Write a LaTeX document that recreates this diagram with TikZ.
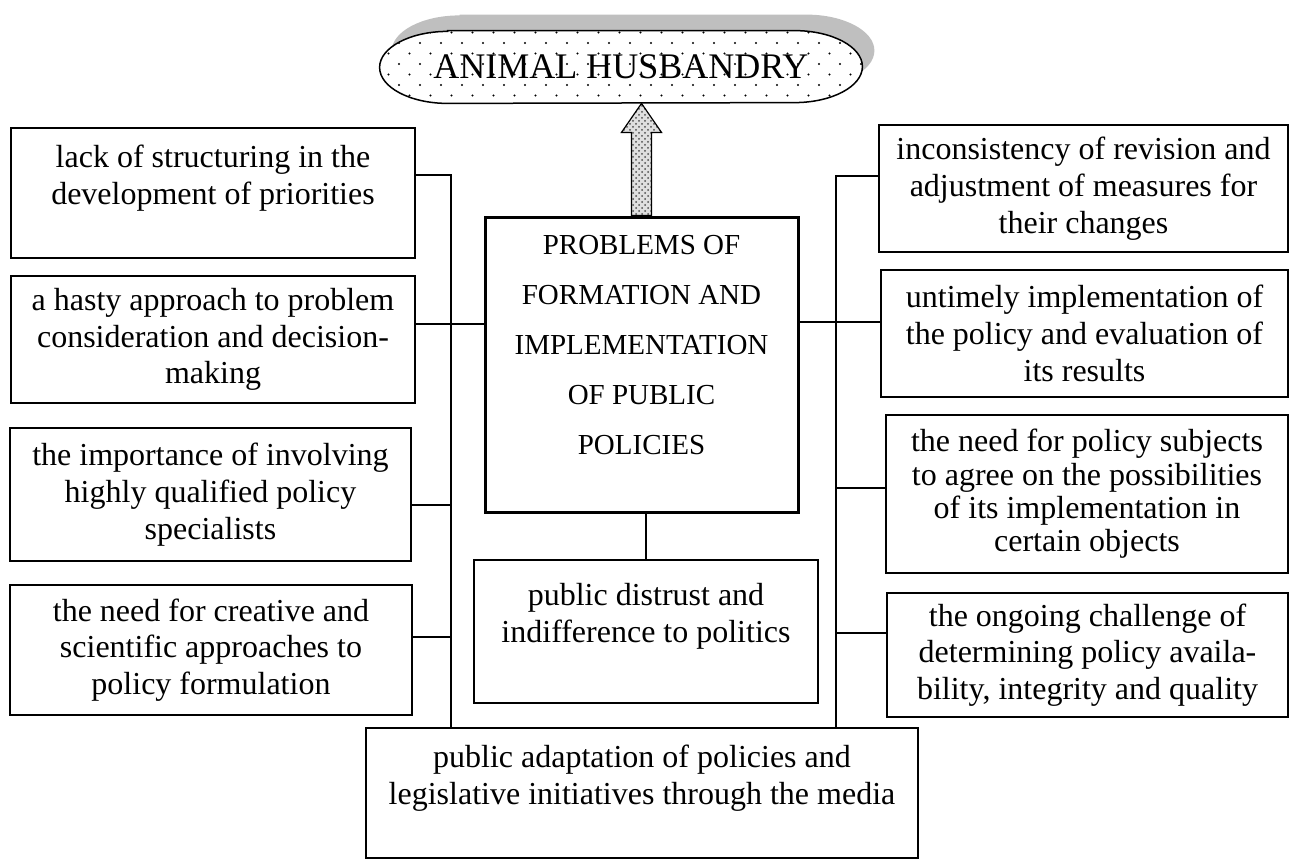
\documentclass[tikz,border=0pt]{standalone}
\usepackage{fontspec}
\setmainfont{Liberation Serif}
\usetikzlibrary{shadows,patterns,backgrounds}

% sparse staggered dots for the title capsule
\pgfdeclarepatternformonly{sparse dots}{\pgfqpoint{-1pt}{-1pt}}{\pgfqpoint{11pt}{11pt}}{\pgfqpoint{10.5pt}{10.5pt}}{%
  \pgfpathcircle{\pgfqpoint{0pt}{0pt}}{0.55pt}%
  \pgfpathcircle{\pgfqpoint{5.25pt}{5.25pt}}{0.55pt}%
  \pgfusepath{fill}}

\begin{document}
\begin{tikzpicture}[x=1pt, y=-1pt,
    box/.style={draw, line width=0.75pt, align=center, inner sep=0pt,
                font=\fontsize{16}{18.4}\selectfont},
    mainbox/.style={draw, line width=1.5pt, align=center, inner sep=0pt,
                font=\fontsize{14.5}{25}\selectfont},
    titlebox/.style={inner sep=0pt, minimum width=241pt, minimum height=36pt,
                font=\fontsize{18}{20}\selectfont},
    capsule/.style={draw, line width=0.75pt,
                drop shadow={shadow xshift=6pt, shadow yshift=8pt, fill=gray!50, opacity=1},
                preaction={fill=white}, pattern=sparse dots},
    uparrow/.style={draw, line width=0.6pt, preaction={fill=gray!25},
                pattern=crosshatch dots, pattern color=black!70},
    link/.style={line width=0.75pt}
]
\useasboundingbox (0,0) rectangle (645,431);

% title
\node[titlebox] (title) at (310.5,33.5) {ANIMAL HUSBANDRY};
\begin{scope}[on background layer]
\path[capsule] ([xshift=34pt]title.north west) -- ([xshift=-34pt]title.north east)
    arc[start angle=90, end angle=-90, x radius=34pt, y radius=18pt]
    -- ([xshift=34pt]title.south west)
    arc[start angle=270, end angle=90, x radius=34pt, y radius=18pt] -- cycle;
\end{scope}

% central problem
\node[mainbox, minimum width=156.5pt, minimum height=147.5pt] (main) at (320.75,182.25)
    {PROBLEMS OF\\FORMATION AND\\IMPLEMENTATION\\OF PUBLIC\\POLICIES\\[-5pt]\mbox{}};

% left column
\node[box, minimum width=202pt, minimum height=65pt] (l1) at (106.5,96.5)
    {lack of structuring in the\\development of priorities\\\mbox{}};
\node[box, minimum width=202pt, minimum height=63.5pt] (l2) at (106.5,169.75)
    {a hasty approach to problem\\consideration and decision-\\making};
\node[box, minimum width=200.5pt, minimum height=66.5pt] (l3) at (105.25,247.25)
    {the importance of involving\\highly qualified policy\\specialists};
\node[box, minimum width=201pt, minimum height=65pt] (l4) at (105.5,325)
    {the need for creative and\\scientific approaches to\\policy formulation};

% right column
\node[box, minimum width=204.5pt, minimum height=63.5pt] (r1) at (541.75,94.25)
    {inconsistency of revision and\\adjustment of measures for\\their changes};
\node[box, minimum width=203.5pt, minimum height=63.5pt] (r2) at (542.25,166.75)
    {untimely implementation of\\the policy and evaluation of\\its results};
\node[box, minimum width=201pt, minimum height=79pt, font=\fontsize{16}{16.7}\selectfont] (r3) at (543.5,247)
    {the need for policy subjects\\to agree on the possibilities\\of its implementation in\\certain objects};
\node[box, minimum width=200.5pt, minimum height=62pt] (r4) at (543.75,327.5)
    {the ongoing challenge of\\determining policy availa-\\bility, integrity and quality};

% bottom
\node[box, minimum width=172pt, minimum height=71.5pt] (dist) at (323,315.75)
    {public distrust and\\indifference to politics\\\mbox{}};
\node[box, minimum width=276pt, minimum height=65pt] (media) at (321,396.5)
    {public adaptation of policies and\\legislative initiatives through the media\\\mbox{}};

% spines
\coordinate (ls1) at (225.5,87.5);
\coordinate (ls2) at (225.5,162);
\coordinate (ls3) at (225.5,252.5);
\coordinate (ls4) at (225.5,318.5);
\coordinate (rs1) at (418,88);
\coordinate (rs2) at (418,161);
\coordinate (rs3) at (418,244);
\coordinate (rs4) at (418,316.5);

\draw[link] (l1.east |- ls1) -- (ls1) -- (ls1 |- media.north);
\draw[link] (l2.east |- ls2) -- (main.west |- ls2);
\draw[link] (l3.east |- ls3) -- (ls3);
\draw[link] (l4.east |- ls4) -- (ls4);

\draw[link] (r1.west |- rs1) -- (rs1) -- (rs1 |- media.north);
\draw[link] (main.east |- rs2) -- (r2.west |- rs2);
\draw[link] (rs3) -- (r3.west |- rs3);
\draw[link] (rs4) -- (r4.west |- rs4);

\draw[link] (dist.north |- main.south) -- (dist.north);

% block arrow up to the title
\coordinate (tip) at (main.north |- title.south);
\path[uparrow] ([xshift=-5pt]main.north) -- ([xshift=-5pt,yshift=-14.5pt]tip)
    -- ([xshift=-10pt,yshift=-14.5pt]tip) -- (tip)
    -- ([xshift=10pt,yshift=-14.5pt]tip) -- ([xshift=5pt,yshift=-14.5pt]tip)
    -- ([xshift=5pt]main.north) -- cycle;
\end{tikzpicture}
\end{document}
